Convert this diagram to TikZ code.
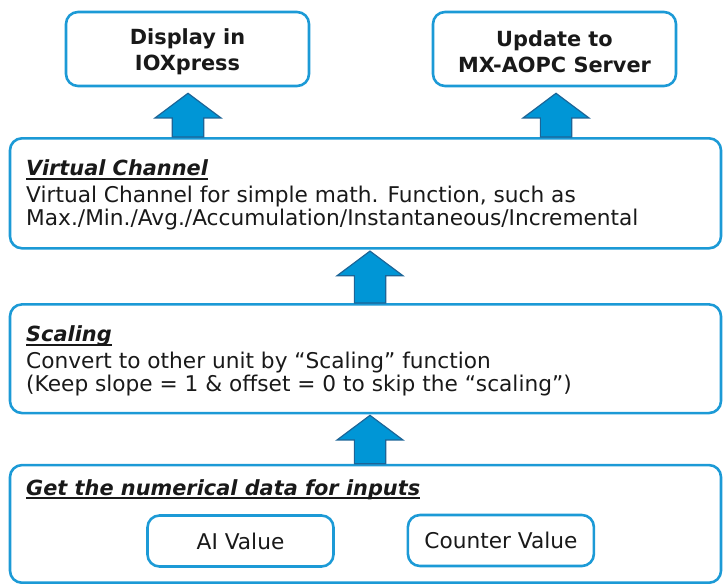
\documentclass[tikz,border=0pt]{standalone}
\usepackage{fontspec}
\setmainfont{DejaVu Sans}
\usetikzlibrary{calc}

\definecolor{boxblue}{RGB}{28,154,214}
\definecolor{arrowfill}{RGB}{0,150,214}
\definecolor{arrowline}{RGB}{28,100,150}
\definecolor{textgray}{RGB}{25,25,25}

% block arrow: x position, lower box, upper box, gap under the upper box
\newcommand{\blockup}[4]{%
  \draw[blockarrow] let \p1=(#1,0), \p2=(#2.north), \p3=($(#3.south)+(0,#4)$) in
    (\x1-0.47cm,\y2) -- (\x1-0.47cm,\y3-0.74cm) -- (\x1-0.99cm,\y3-0.74cm) -- (\x1,\y3)
    -- (\x1+0.99cm,\y3-0.74cm) -- (\x1+0.47cm,\y3-0.74cm) -- (\x1+0.47cm,\y2) -- cycle;}

\begin{document}
\begin{tikzpicture}[x=0.03cm, y=-0.03cm, font=\fontsize{18.5}{21}\selectfont, text=textgray,
    box/.style={draw=boxblue, line width=2.2pt, rounded corners=0.36cm},
    headbox/.style={box, font=\fontsize{17.8}{22}\selectfont\bfseries, align=center,
      minimum width=7.29cm, minimum height=2.22cm},
    wide/.style={box, minimum width=21.33cm},
    valbox/.style={box, minimum width=5.58cm, minimum height=1.53cm},
    ttl/.style={inner sep=0pt, anchor=base west, font=\fontsize{17.8}{22}\selectfont\bfseries\itshape},
    bodytext/.style={inner sep=0pt, anchor=base west},
    uline/.style={draw=textgray, line width=1.4pt},
    blockarrow/.style={fill=arrowfill, draw=arrowline, line width=1pt}]
  \useasboundingbox (0,0) rectangle (723,583);

  % Top boxes
  \node[headbox] (disp) at (187.5,49) {\rule{0pt}{18pt}Display in\\IOXpress};
  \node[headbox] (upd) at (554.5,49) {\rule{0pt}{18pt}Update to\\MX-AOPC Server};

  % Virtual channel
  \node[wide, minimum height=3.3cm] (vc) at (365.5,193.3) {};
  \node[ttl] (vct) at (26,175.7) {Virtual Channel};
  \draw[uline] ([yshift=-2.6pt]vct.base west) -- ([yshift=-2.6pt]vct.base east);
  \node[bodytext] (vc1) at (26,202.7) {Virtual Channel for simple math. Function, such as};
  \node[bodytext] (vc2) at (26,225) {Max./Min./Avg./Accumulation/Instantaneous/Incremental};

  % Scaling
  \node[wide, minimum height=3.26cm] (scal) at (365.5,358.7) {};
  \node[ttl] (scalt) at (26,341.7) {Scaling};
  \draw[uline] ([yshift=-2.6pt]scalt.base west) -- ([yshift=-2.6pt]scalt.base east);
  \node[bodytext] (scal1) at (26,368) {Convert to other unit by “Scaling” function};
  \node[bodytext] (scal2) at (26,391.7) {(Keep slope = 1 \& offset = 0 to skip the “scaling”)};

  % Inputs
  \node[wide, minimum height=3.53cm] (inp) at (365.5,523.9) {};
  \node[ttl] (inpt) at (26,495) {Get the numerical data for inputs};
  \draw[uline] ([yshift=-2.6pt]inpt.base west) -- ([yshift=-2.6pt]inpt.base east);
  \node[valbox] (ai) at (240.5,541) {AI Value};
  \node[valbox] (cnt) at (500.9,540.5) {Counter Value};

  % Arrows
  \blockup{188}{vc}{disp}{6}
  \blockup{556}{vc}{upd}{6}
  \blockup{370}{scal}{vc}{1.5}
  \blockup{370}{inp}{scal}{1}
\end{tikzpicture}
\end{document}
